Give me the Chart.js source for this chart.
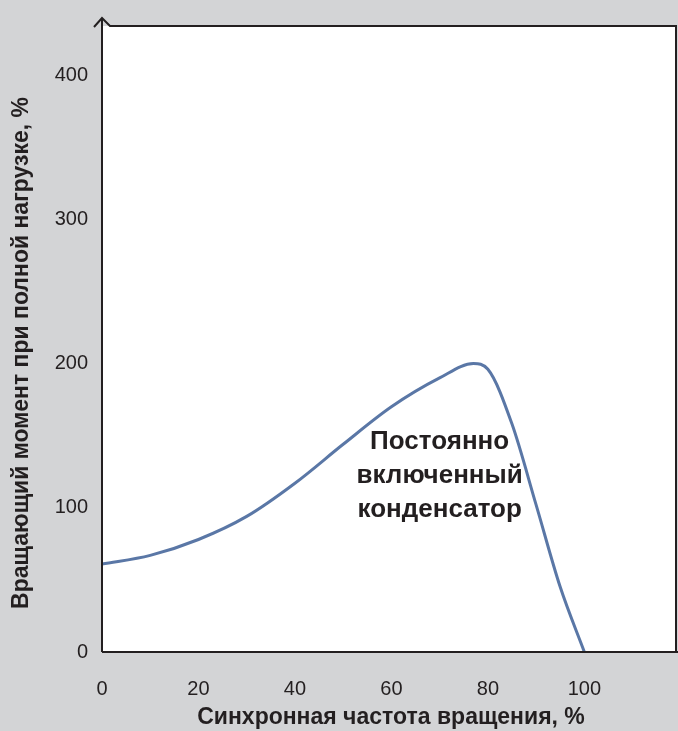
<!DOCTYPE html>
<html>
<head>
<meta charset="utf-8">
<script src="https://cdn.jsdelivr.net/npm/chart.js@4"></script>
<style>
  html, body { margin: 0; padding: 0; background: #d3d4d6; }
  #wrap { width: 678px; height: 731px; position: relative; }
</style>
</head>
<body>
<div id="wrap"><canvas id="grafico"></canvas></div>
<script>
// скорость, % синхронной
const speed = [0, 10, 20, 30, 40, 50, 60, 70, 77, 80, 85, 90, 95, 100];
// момент, % от номинального
const torque = [61, 67, 78, 94, 117, 144, 170, 190, 200, 196, 158, 102, 45, 0];

const xTicks = [0, 20, 40, 60, 80, 100];
const yTicks = [0, 100, 200, 300, 400];
const xTitle = "Синхронная частота вращения, %";
const yTitle = "Вращающий момент при полной нагрузке, %";
const noteLines = ["Постоянно", "включенный", "конденсатор"];

const fontFam = "'Liberation Sans', Arial, sans-serif";

const fundo = {
  id: "fundo",
  beforeDraw(chart) {
    const { ctx, chartArea: a } = chart;
    ctx.save();
    ctx.fillStyle = "#d3d4d6";
    ctx.fillRect(0, 0, chart.width, chart.height);
    ctx.fillStyle = "#ffffff";
    ctx.fillRect(a.left, a.top, a.right - a.left, a.bottom - a.top);
    ctx.restore();
  },
  afterDraw(chart) {
    const { ctx, chartArea: a, scales } = chart;
    ctx.save();
    // moldura e setas
    ctx.strokeStyle = "#231f20";
    ctx.lineWidth = 2;
    ctx.beginPath();
    ctx.moveTo(a.left, a.bottom);
    ctx.lineTo(a.left, a.top - 8);
    ctx.moveTo(a.left - 8, a.top + 1);
    ctx.lineTo(a.left, a.top - 8);
    ctx.lineTo(a.left + 8, a.top);
    ctx.lineTo(a.right, a.top);
    ctx.lineTo(a.right, a.bottom);
    ctx.moveTo(a.left, a.bottom);
    ctx.lineTo(chart.width, a.bottom);
    ctx.stroke();

    // titulos
    ctx.fillStyle = "#231f20";
    ctx.font = "bold 23px " + fontFam;
    ctx.textAlign = "center";
    ctx.textBaseline = "middle";
    ctx.fillText(xTitle, 391, 718);
    ctx.translate(22, 353);
    ctx.rotate(-Math.PI / 2);
    ctx.fillText(yTitle, 0, 0);
    ctx.restore();

    // nota
    ctx.save();
    ctx.fillStyle = "#231f20";
    ctx.font = "bold 26px " + fontFam;
    ctx.textAlign = "center";
    ctx.textBaseline = "middle";
    const cx = scales.x.getPixelForValue(70);
    const cy = scales.y.getPixelForValue(122);
    noteLines.forEach((t, i) => ctx.fillText(t, cx, cy + (i - 1) * 34));
    ctx.restore();
  }
};

new Chart(document.getElementById("grafico"), {
  type: "line",
  data: {
    datasets: [{
      data: speed.map((s, i) => ({ x: s, y: torque[i] })),
      borderColor: "#5a77a6",
      borderWidth: 3,
      pointRadius: 0,
      cubicInterpolationMode: "monotone",
      fill: false
    }]
  },
  options: {
    responsive: true,
    maintainAspectRatio: false,
    animation: false,
    layout: { padding: { top: 21, right: 2, left: 0, bottom: 0 } },
    plugins: { legend: { display: false }, tooltip: { enabled: false } },
    scales: {
      x: {
        type: "linear",
        min: 0,
        max: 119,
        grid: { display: false, drawTicks: false },
        border: { display: false },
        afterBuildTicks: axis => { axis.ticks = xTicks.map(v => ({ value: v })); },
        afterFit: axis => { axis.height = 79; },
        ticks: {
          padding: 25,
          maxRotation: 0,
          color: "#231f20",
          font: { family: fontFam, size: 20 }
        }
      },
      y: {
        min: 0,
        max: 434,
        grid: { display: false, drawTicks: false },
        border: { display: false },
        afterBuildTicks: axis => { axis.ticks = yTicks.map(v => ({ value: v })); },
        afterFit: axis => { axis.width = 102; },
        ticks: {
          padding: 14,
          color: "#231f20",
          font: { family: fontFam, size: 20 }
        }
      }
    }
  },
  plugins: [fundo]
});
</script>
</body>
</html>
